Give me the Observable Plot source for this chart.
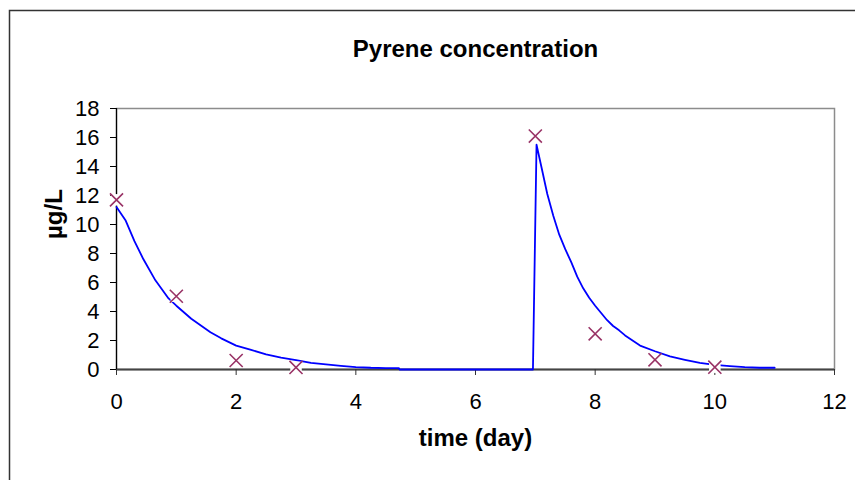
<!DOCTYPE html>
<html>
<head>
<meta charset="utf-8">
<script src="https://cdn.jsdelivr.net/npm/d3@7"></script>
<script src="https://cdn.jsdelivr.net/npm/@observablehq/plot@0.6"></script>
<style>
  html, body { margin: 0; padding: 0; background: #fff; }
</style>
</head>
<body>
<div id="chart"></div>
<script>
// Chart texts
const titleText = ["Pyrene concentration"];
const xLabel = ["time (day)"];
const yLabel = ["µg/L"];

// Tick values
const xTicks = [0, 2, 4, 6, 8, 10, 12];
const yTicks = [0, 2, 4, 6, 8, 10, 12, 14, 16, 18];

// Model curve (days, µg/L)
const modelDays = [0, 0.15, 0.3, 0.45, 0.65, 0.87, 1.0, 1.25, 1.57, 1.75, 2.0, 2.25, 2.5, 2.75, 3.0, 3.25, 3.5, 3.75, 4.0, 4.25, 4.5, 4.72, 4.73,
  6.96, 7.02, 7.1, 7.2, 7.3, 7.4, 7.5, 7.6, 7.7, 7.8, 7.9, 8.0, 8.1, 8.2, 8.3, 8.4, 8.5, 8.75, 9.0, 9.25, 9.5, 9.75, 10.0, 10.25, 10.5, 10.75, 11.0];
const modelValues = [11.2, 10.3, 8.85, 7.6, 6.15, 4.9, 4.4, 3.5, 2.57, 2.15, 1.65, 1.35, 1.05, 0.82, 0.65, 0.45, 0.35, 0.25, 0.17, 0.12, 0.1, 0.1, 0,
  0, 15.5, 14.0, 12.1, 10.6, 9.3, 8.3, 7.4, 6.4, 5.6, 4.95, 4.4, 3.9, 3.4, 3.0, 2.7, 2.35, 1.65, 1.26, 0.9, 0.67, 0.46, 0.32, 0.23, 0.16, 0.12, 0.12];

// Measured points
const obsDays = [0, 1, 2, 3, 7, 8, 9, 10];
const obsValues = [11.7, 5.05, 0.62, 0.14, 16.1, 2.46, 0.67, 0.16];

const model = modelDays.map((t, i) => ({t, v: modelValues[i]}));
const obs = obsDays.map((t, i) => ({t, v: obsValues[i]}));

const chart = Plot.plot({
  width: 855,
  height: 480,
  marginLeft: 116,
  marginRight: 21,
  marginTop: 108,
  marginBottom: 111,
  style: {fontFamily: "'Liberation Sans', Arial, sans-serif", fontSize: "22px", color: "#000", background: "#fff"},
  x: {domain: [0, 12]},
  y: {domain: [0, 18]},
  marks: [
    Plot.frame({stroke: "#8c8c8c", strokeWidth: 1.5}),
    Plot.ruleY([0], {stroke: "#444", strokeWidth: 2}),
    Plot.ruleX([0], {stroke: "#000", strokeWidth: 1.2}),
    Plot.axisX({ticks: xTicks, tickSize: 6, tickPadding: 18, label: null, fontSize: 22, stroke: "#333"}),
    Plot.axisY({ticks: yTicks, tickSize: 6, tickPadding: 11, label: null, fontSize: 22, stroke: "#000"}),
    Plot.line(model, {x: "t", y: "v", stroke: "#0000ff", strokeWidth: 1.8}),
    Plot.dot(obs, {x: "t", y: "v", symbol: "square", r: 6.5, fill: "#fff", stroke: "none"}),
    Plot.dot(obs, {x: "t", y: "v", symbol: "times", r: 6, stroke: "#993366", strokeWidth: 1.6}),
    Plot.text(titleText, {text: d => d, frameAnchor: "top", dy: -69, fontSize: 24, fontWeight: "bold"}),
    Plot.text(xLabel, {text: d => d, frameAnchor: "bottom", dy: 76, fontSize: 24, fontWeight: "bold"}),
    Plot.text(yLabel, {text: d => d, frameAnchor: "left", dx: -62, rotate: -90, fontSize: 24, fontWeight: "bold"})
  ]
});

d3.select(chart).append("rect")
  .attr("x", 9.5).attr("y", 10.5)
  .attr("width", 1000).attr("height", 1000)
  .attr("fill", "none").attr("stroke", "#333").attr("stroke-width", 1.5);

document.getElementById("chart").appendChild(chart);
</script>
</body>
</html>
